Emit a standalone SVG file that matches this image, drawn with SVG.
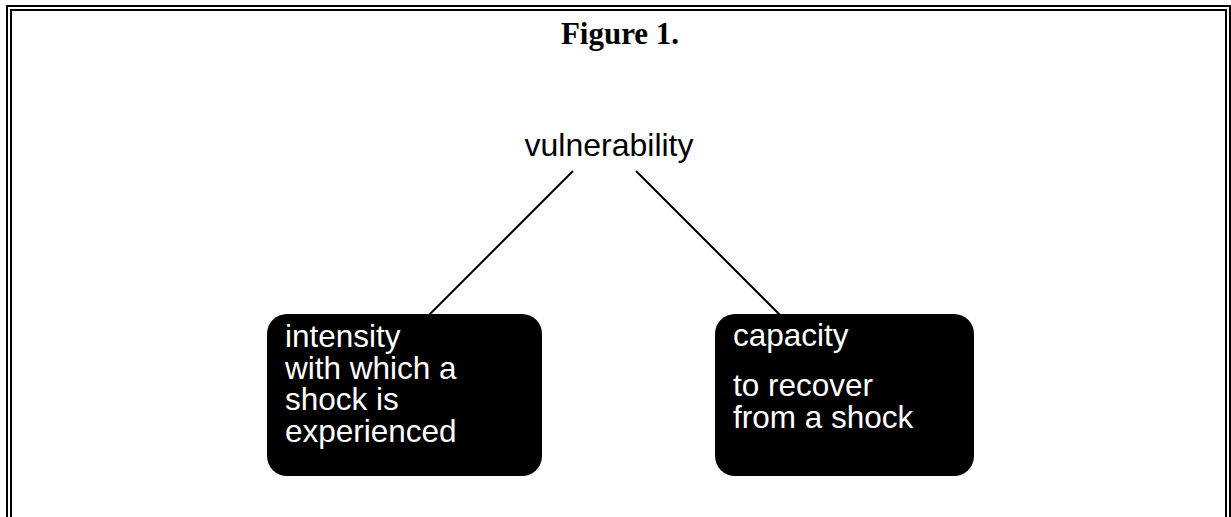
<svg xmlns="http://www.w3.org/2000/svg" width="1231" height="517" viewBox="0 0 1231 517">
<style>
.frame{fill:none;stroke:#000;stroke-width:2}
.box{fill:#000}
.btxt{font-family:"Liberation Sans",Arial,sans-serif;font-size:31.5px;fill:#fff}
.ttl{font-family:"Liberation Serif","Times New Roman",serif;font-size:31px;font-weight:bold;fill:#000}
.lbl{font-family:"Liberation Sans",Arial,sans-serif;font-size:32px;fill:#000}
.conn{stroke:#000;stroke-width:2;fill:none}
</style>
<rect width="1231" height="517" fill="#fff"/>
<g id="frame">
<path class="frame" d="M7,517 V6 H1230 V517"/>
<path class="frame" d="M11,517 V10 H1226 V517"/>
</g>
<g id="title"><text class="ttl" x="620" y="44" text-anchor="middle">Figure 1.</text></g>
<g id="connectors">
<line class="conn" x1="573" y1="171" x2="429" y2="315"/>
<line class="conn" x1="636" y1="171" x2="780" y2="315"/>
</g>
<g id="vulnerability"><text class="lbl" x="609" y="156" text-anchor="middle">vulnerability</text></g>
<g id="intensity">
<rect class="box" x="267" y="314" width="275" height="162" rx="20"/>
<text class="btxt" x="285" y="347">intensity</text>
<text class="btxt" x="285" y="378.5">with which a</text>
<text class="btxt" x="285" y="410">shock is</text>
<text class="btxt" x="285" y="441.5">experienced</text>
</g>
<g id="capacity">
<rect class="box" x="715" y="314" width="259" height="162" rx="20"/>
<text class="btxt" x="733" y="346">capacity</text>
<text class="btxt" x="733" y="396">to recover</text>
<text class="btxt" x="733" y="427.5">from a shock</text>
</g>
</svg>
